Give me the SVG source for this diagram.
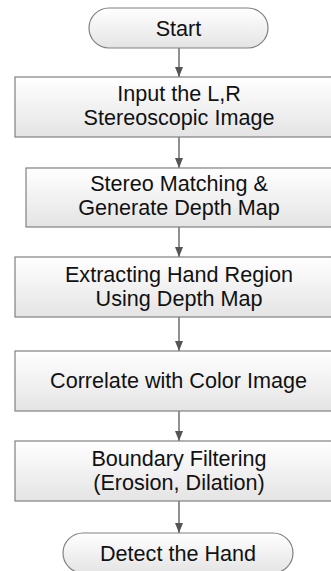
<svg xmlns="http://www.w3.org/2000/svg" width="331" height="571" viewBox="0 0 331 571">
<defs>
<linearGradient id="g" x1="0" y1="0" x2="0" y2="1">
<stop offset="0" stop-color="#ffffff"/>
<stop offset="1" stop-color="#e4e4e4"/>
</linearGradient>
<marker id="ah" markerWidth="10" markerHeight="8" refX="10" refY="4" orient="auto" markerUnits="userSpaceOnUse">
<path d="M0,0 L10,4 L0,8 Z" fill="#555555"/>
</marker>
<style>
.n{fill:url(#g);stroke:#808080;stroke-width:1.2}
.t{font-family:"Liberation Sans",Arial,sans-serif;font-size:21.6px;fill:#111111;text-anchor:middle}
.c{stroke:#555555;stroke-width:1.3;fill:none;marker-end:url(#ah)}
</style>
</defs>
<rect width="331" height="571" fill="#ffffff"/>
<g id="connectors">
<line class="c" x1="179" y1="48" x2="179" y2="77"/>
<line class="c" x1="179" y1="137" x2="179" y2="168"/>
<line class="c" x1="179" y1="227" x2="179" y2="257"/>
<line class="c" x1="179" y1="317" x2="179" y2="351"/>
<line class="c" x1="179" y1="411" x2="179" y2="441"/>
<line class="c" x1="179" y1="501" x2="179" y2="533"/>
</g>
<g id="start">
<rect class="n" x="89" y="8" width="179" height="40" rx="20" ry="20"/>
<text class="t" x="178.5" y="36">Start</text>
</g>
<g id="input">
<rect class="n" x="15" y="77" width="328" height="60"/>
<text class="t" x="179" y="101.2">Input the L,R</text>
<text class="t" x="179" y="125.4">Stereoscopic Image</text>
</g>
<g id="stereo">
<rect class="n" x="26" y="168" width="306" height="59"/>
<text class="t" x="179" y="191.2">Stereo Matching &amp;</text>
<text class="t" x="179" y="215.4">Generate Depth Map</text>
</g>
<g id="extract">
<rect class="n" x="15" y="257" width="328" height="60"/>
<text class="t" x="179" y="281.9">Extracting Hand Region</text>
<text class="t" x="179" y="306.1">Using Depth Map</text>
</g>
<g id="correlate">
<rect class="n" x="15" y="351" width="328" height="60"/>
<text class="t" x="178.5" y="388">Correlate with Color Image</text>
</g>
<g id="boundary">
<rect class="n" x="15" y="441" width="328" height="60"/>
<text class="t" x="179" y="465.7">Boundary Filtering</text>
<text class="t" x="179" y="489.9">(Erosion, Dilation)</text>
</g>
<g id="end">
<rect class="n" x="63" y="533" width="230" height="40" rx="20" ry="20"/>
<text class="t" x="178" y="560.5">Detect the Hand</text>
</g>
</svg>
